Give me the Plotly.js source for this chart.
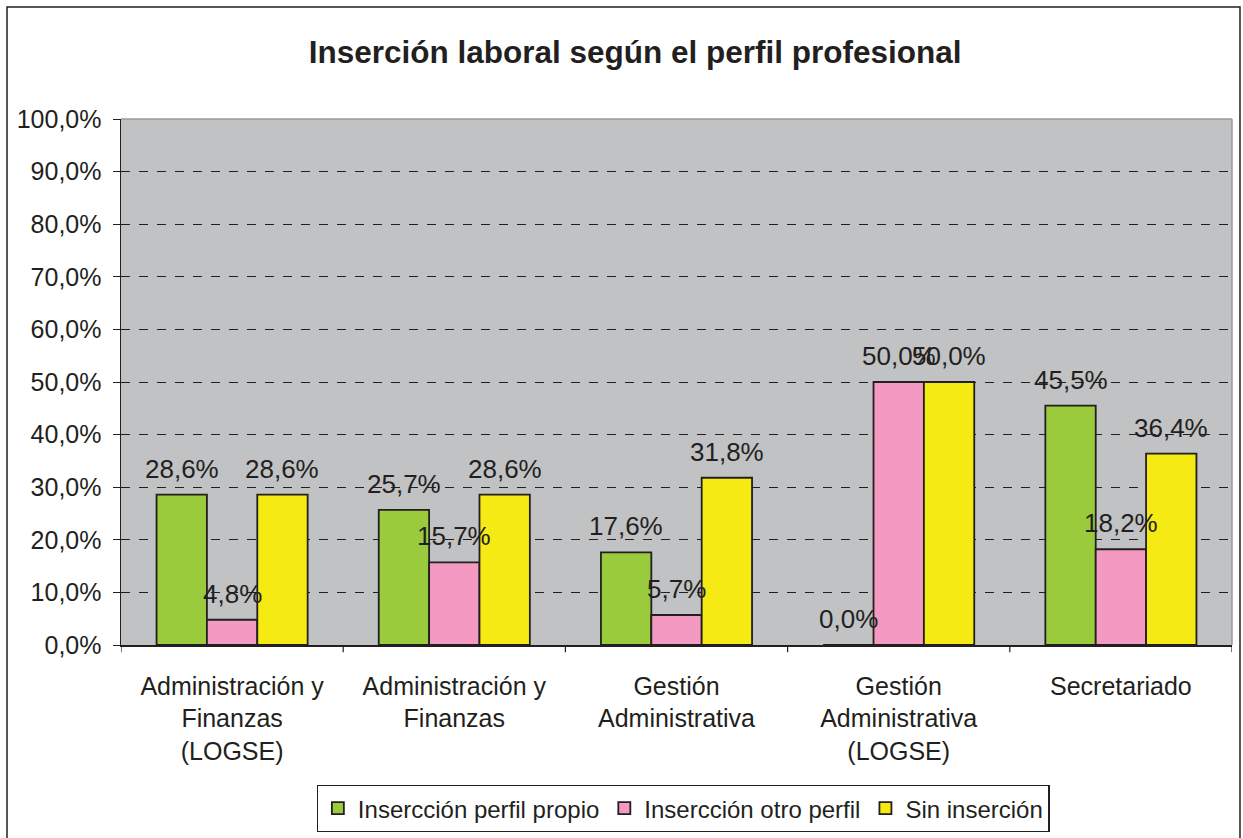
<!DOCTYPE html>
<html>
<head>
<meta charset="utf-8">
<script src="https://cdn.plot.ly/plotly-3.0.1.min.js"></script>
<style>html,body{margin:0;padding:0;background:#fff;}#chart{width:1243px;height:838px;}</style>
</head>
<body>
<div id="chart"></div>
<script>
const categories = [
  "Administración y<br>Finanzas<br>(LOGSE)",
  "Administración y<br>Finanzas",
  "Gestión<br>Administrativa",
  "Gestión<br>Administrativa<br>(LOGSE)",
  "Secretariado"
];
const seriesNames = ["Insercción perfil propio", "Insercción otro perfil", "Sin inserción"];
const propio = [0.286, 0.257, 0.176, 0.0, 0.455];
const otro = [0.048, 0.157, 0.057, 0.500, 0.182];
const sin = [0.286, 0.286, 0.318, 0.500, 0.364];
const colors = ["#9ACB3C", "#F49AC2", "#F5EA14"];
const seriesValues = [propio, otro, sin];

const FONT = "Arial, Liberation Sans, sans-serif";
const bargap = 0.32;
const nSeries = seriesValues.length;
const barW = (1 - bargap) / nSeries;

const traces = seriesValues.map((vals, i) => ({
  type: "bar",
  name: seriesNames[i],
  x: categories.map((c, j) => j),
  y: vals,
  marker: {color: colors[i], line: {color: "#231F20", width: 1.8}},
  hoverinfo: "none"
}));

const fmt = v => (v * 100).toFixed(1).replace(".", ",") + "%";
const annotations = [];
seriesValues.forEach((vals, i) => {
  vals.forEach((v, j) => {
    annotations.push({
      x: j + (i - (nSeries - 1) / 2) * barW, y: v, xref: "x", yref: "y",
      text: fmt(v), showarrow: false, yanchor: "middle", xanchor: "center", yshift: 26,
      font: {family: FONT, size: 26, color: "#231F20"}
    });
  });
});

const boundaries = [];
for (let j = 0; j <= categories.length; j++) boundaries.push(j - 0.5);

const layout = {
  width: 1243, height: 838,
  margin: {l: 121, r: 11, t: 119, b: 193, autoexpand: false},
  paper_bgcolor: "#ffffff",
  plot_bgcolor: "#C1C2C4",
  separators: ",.",
  font: {family: FONT, size: 25, color: "#231F20"},
  title: {text: "<b>Inserción laboral según el perfil profesional</b>", x: 0.511, xref: "container", y: 0.938, yanchor: "middle", font: {size: 31.5, color: "#231F20"}},
  barmode: "group",
  bargap: bargap,
  bargroupgap: 0,
  showlegend: true,
  legend: {orientation: "h", x: 0.506, xanchor: "center", y: -0.266, yanchor: "top",
           bordercolor: "#231F20", borderwidth: 1.2, font: {size: 24}, traceorder: "normal",
           itemwidth: 30, tracegroupgap: 0},
  xaxis: {type: "linear", range: [-0.5, categories.length - 0.5], automargin: false,
          tickmode: "array", tickvals: categories.map((c, j) => j), ticktext: categories,
          ticks: "", showline: true, linecolor: "#231F20", linewidth: 1.5, showgrid: false,
          tickfont: {size: 25}, ticklabelstandoff: 18, fixedrange: true},
  yaxis: {range: [0, 1], dtick: 0.1, tickformat: ".1%", ticks: "outside", ticklen: 7, automargin: false,
          tickcolor: "#231F20", showline: true, linecolor: "#231F20", linewidth: 1.5,
          showgrid: true, gridcolor: "#231F20", griddash: "dash", gridwidth: 1,
          zeroline: false, tickfont: {size: 25}, ticklabelstandoff: 6, fixedrange: true},
  annotations: annotations,
  shapes: [
    {type: "rect", xref: "paper", yref: "paper", x0: -0.1026, x1: 1.0072, y0: -0.37, y1: 1.2128,
     line: {color: "#231F20", width: 1.5}, fillcolor: "rgba(0,0,0,0)", layer: "below"},
    {type: "line", xref: "paper", yref: "paper", x0: 0, x1: 1, y0: 1, y1: 1,
     line: {color: "#9a9a9a", width: 1.5}},
    {type: "line", xref: "paper", yref: "paper", x0: 1, x1: 1, y0: 0, y1: 1,
     line: {color: "#9a9a9a", width: 1.5}}
  ].concat(boundaries.map(b => ({
     type: "line", xref: "x", yref: "paper", x0: b, x1: b, y0: 0, y1: -0.014,
     line: {color: "#231F20", width: 1.2}})))
};
Plotly.newPlot("chart", traces, layout, {displayModeBar: false, staticPlot: true});
</script>
</body>
</html>
